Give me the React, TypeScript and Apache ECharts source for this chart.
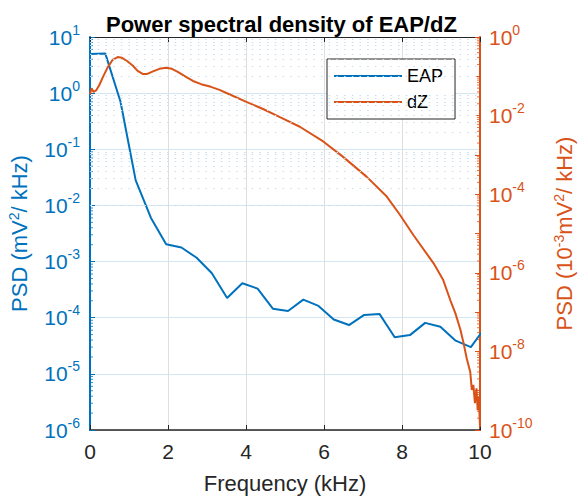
import React, { useEffect, useRef } from 'react';
import * as echarts from 'echarts';

// ---- data ----
const freqEAP = [0, 0.391, 0.781, 1.172, 1.563, 1.953, 2.344, 2.734, 3.125, 3.516, 3.906, 4.297, 4.688, 5.078, 5.469, 5.859, 6.25, 6.641, 7.031, 7.422, 7.813, 8.203, 8.594, 8.984, 9.375, 9.766, 10.156];
const psdEAP = [5.0, 5.1, 0.71, 0.028, 0.006, 0.00204, 0.00178, 0.00117, 6.2e-4, 2.24e-4, 4.1e-4, 3.3e-4, 1.45e-4, 1.32e-4, 2.1e-4, 1.62e-4, 9.3e-5, 7.4e-5, 1.12e-4, 1.17e-4, 4.5e-5, 4.9e-5, 8.1e-5, 6.9e-5, 3.9e-5, 3.0e-5, 7.1e-5];

const freqDZ = [0, 0.04, 0.09, 0.16, 0.24, 0.33, 0.45, 0.58, 0.71, 0.82, 0.95, 1.1, 1.22, 1.35, 1.47, 1.6, 1.78, 1.95, 2.1, 2.25, 2.45, 2.64, 2.85, 3.1, 3.32, 3.6, 4.01, 4.45, 4.87, 5.38, 5.98, 6.49, 7.09, 7.61, 7.95, 8.3, 8.81, 9.05, 9.24, 9.37, 9.5, 9.58, 9.66, 9.75, 9.79, 9.83, 9.87, 9.91, 9.94, 9.97, 10.0];
const psdDZ = [0.035, 0.05, 0.04, 0.044, 0.06, 0.095, 0.166, 0.263, 0.309, 0.295, 0.245, 0.186, 0.138, 0.115, 0.115, 0.132, 0.155, 0.166, 0.155, 0.129, 0.098, 0.076, 0.063, 0.054, 0.045, 0.034, 0.0224, 0.0145, 0.0091, 0.0052, 0.0022, 8.9e-4, 2.8e-4, 8.7e-5, 2.95e-5, 8.9e-6, 1.74e-6, 6.8e-7, 2.0e-7, 9.3e-8, 3.5e-8, 1.6e-8, 6.6e-9, 3.0e-9, 1.05e-9, 1.4e-9, 4.8e-10, 1.15e-9, 3.2e-10, 7.1e-10, 1.2e-10];

const xMin = 0;
const xMax = 10;
const xStep = 2;
const leftDecades = [-6, -5, -4, -3, -2, -1, 0, 1];
const rightDecades = [-10, -9, -8, -7, -6, -5, -4, -3, -2, -1, 0];
const minorMultipliers = [2, 3, 4, 5, 6, 7, 8, 9];

const titleText = 'Power spectral density of EAP/dZ';
const xName = 'Frequency (kHz)';
const seriesNames = ['EAP', 'dZ'];

// ---- style ----
const BLUE = '#0072BD';
const ORANGE = '#D95319';
const DARK = '#262626';
const FONT = '"Liberation Sans", Arial, Helvetica, sans-serif';
const TICK_FS = 21;
const SUP_FS = 14;
const NAME_FS = 22;

function minorValues(decades: number[]) {
  const out: number[] = [];
  for (let i = 0; i < decades.length - 1; i++) {
    for (const m of minorMultipliers) out.push(m * Math.pow(10, decades[i]));
  }
  return out;
}

function supRich(color: string, base: number, sup: number) {
  return {
    b: { fontSize: base, color, fontFamily: FONT, lineHeight: base, padding: [10, 0, 0, 0], verticalAlign: 'bottom' },
    s: { fontSize: sup, color, fontFamily: FONT, lineHeight: sup, padding: [0, 0, 11, 0], verticalAlign: 'bottom' },
  };
}

export default function App() {
  const ref = useRef<HTMLDivElement>(null);

  useEffect(() => {
    if (!ref.current) return;
    const chart = echarts.init(ref.current, null, { renderer: 'svg' });
    const minorL = minorValues(leftDecades);
    const minorR = minorValues(rightDecades);
    const expOf = (v: number) => Math.round(Math.log10(v));

    const option: any = {
      animation: false,
      textStyle: { fontFamily: FONT },
      title: {
        text: titleText,
        left: 101,
        top: 8,
        textStyle: { fontSize: 22, fontWeight: 'bold', color: '#000', fontFamily: FONT },
      },
      legend: {
        data: seriesNames,
        orient: 'vertical',
        left: 327,
        top: 59,
        icon: 'rect',
        itemWidth: 68,
        itemHeight: 2,
        itemGap: 8,
        padding: [8, 12, 8, 7],
        borderColor: DARK,
        borderWidth: 1,
        borderRadius: 0,
        backgroundColor: '#fff',
        textStyle: { fontSize: 18, color: '#000', fontFamily: FONT, lineHeight: 18 },
      },
      grid: { left: 90, right: 100, top: 37, bottom: 69, containLabel: false, outerBoundsMode: 'none' },
      xAxis: [
        {
          type: 'value',
          min: xMin,
          max: xMax,
          interval: xStep,
          position: 'bottom',
          axisLine: { show: true, onZero: false, lineStyle: { color: DARK, width: 1.5 } },
          axisTick: { show: true, inside: true, length: 5, lineStyle: { color: DARK, width: 1 } },
          axisLabel: { color: DARK, fontSize: TICK_FS, margin: 11, fontFamily: FONT },
          splitLine: { show: true, lineStyle: { color: '#DEDEDE', width: 1 } },
          name: xName,
          nameLocation: 'middle',
          nameGap: 42,
          nameTextStyle: { fontSize: NAME_FS, color: DARK, fontFamily: FONT },
        },
        {
          type: 'value',
          min: xMin,
          max: xMax,
          interval: xStep,
          position: 'top',
          axisLine: { show: true, onZero: false, lineStyle: { color: DARK, width: 1.2 } },
          axisTick: { show: true, inside: true, length: 5, lineStyle: { color: DARK, width: 1 } },
          axisLabel: { show: false },
          splitLine: { show: false },
        },
      ],
      yAxis: [
        {
          type: 'log',
          logBase: 10,
          min: 1e-6,
          max: 10,
          interval: 1,
          position: 'left',
          axisLine: { show: true, onZero: false, lineStyle: { color: BLUE, width: 2 } },
          axisTick: { show: true, inside: true, length: 5, lineStyle: { color: BLUE, width: 1 } },
          axisLabel: {
            margin: 10,
            formatter: (v: number) => `{b|10}{s|${expOf(v)}}`,
            rich: supRich(BLUE, TICK_FS, SUP_FS),
          },
          splitLine: { show: true, lineStyle: { color: '#D5E6F3', width: 1 } },
          name: 'PSD (mV{s|2}/ kHz)',
          nameLocation: 'middle',
          nameGap: 58,
          nameTextStyle: {
            fontSize: NAME_FS,
            color: BLUE,
            fontFamily: FONT,
            rich: { s: { fontSize: SUP_FS, color: BLUE, fontFamily: FONT, padding: [0, 0, 11, 0] } },
          },
        },
        {
          type: 'log',
          logBase: 10,
          min: 1e-10,
          max: 1,
          interval: 1,
          position: 'right',
          axisLine: { show: true, onZero: false, lineStyle: { color: ORANGE, width: 2 } },
          axisTick: { show: true, inside: true, length: 5, lineStyle: { color: ORANGE, width: 1 } },
          axisLabel: {
            margin: 9,
            formatter: (v: number) => {
              const e = expOf(v);
              return e % 2 === 0 ? `{b|10}{s|${e}}` : '';
            },
            rich: supRich(ORANGE, TICK_FS, SUP_FS),
          },
          splitLine: { show: false },
          name: 'PSD (10{s|-3}mV{s|2}/ kHz)',
          nameLocation: 'middle',
          nameGap: 72,
          nameTextStyle: {
            fontSize: NAME_FS,
            color: ORANGE,
            fontFamily: FONT,
            rich: { s: { fontSize: SUP_FS, color: ORANGE, fontFamily: FONT, padding: [0, 0, 11, 0] } },
          },
        },
      ],
      series: [
        {
          name: 'minorLeft',
          type: 'scatter',
          xAxisIndex: 0,
          yAxisIndex: 0,
          silent: true,
          z: 1,
          symbol: 'rect',
          symbolSize: [3, 1],
          symbolOffset: [1.5, 0],
          itemStyle: { color: BLUE },
          data: minorL.map((v) => [xMin, v]),
          markLine: {
            silent: true,
            symbol: 'none',
            label: { show: false },
            lineStyle: { color: '#C6DDEE', width: 1, type: [1.5, 6.2] },
            data: minorL.map((v) => ({ yAxis: v })),
          },
        },
        {
          name: 'minorRight',
          type: 'scatter',
          xAxisIndex: 0,
          yAxisIndex: 1,
          silent: true,
          z: 1,
          symbol: 'rect',
          symbolSize: [3, 1],
          symbolOffset: [-1.5, 0],
          itemStyle: { color: ORANGE },
          data: minorR.map((v) => [xMax, v]),
        },
        {
          name: seriesNames[0],
          type: 'line',
          xAxisIndex: 0,
          yAxisIndex: 0,
          symbol: 'none',
          clip: true,
          z: 3,
          lineStyle: { color: BLUE, width: 2 },
          itemStyle: { color: BLUE },
          data: freqEAP.map((f, i) => [f, psdEAP[i]]),
        },
        {
          name: seriesNames[1],
          type: 'line',
          xAxisIndex: 0,
          yAxisIndex: 1,
          symbol: 'none',
          clip: true,
          z: 4,
          lineStyle: { color: ORANGE, width: 2 },
          itemStyle: { color: ORANGE },
          data: freqDZ.map((f, i) => [f, psdDZ[i]]),
        },
      ],
    };

    chart.setOption(option);
    return () => chart.dispose();
  }, []);

  return <div ref={ref} style={{ position: 'fixed', left: 0, top: 0, width: 580, height: 499, background: '#fff' }} />;
}
